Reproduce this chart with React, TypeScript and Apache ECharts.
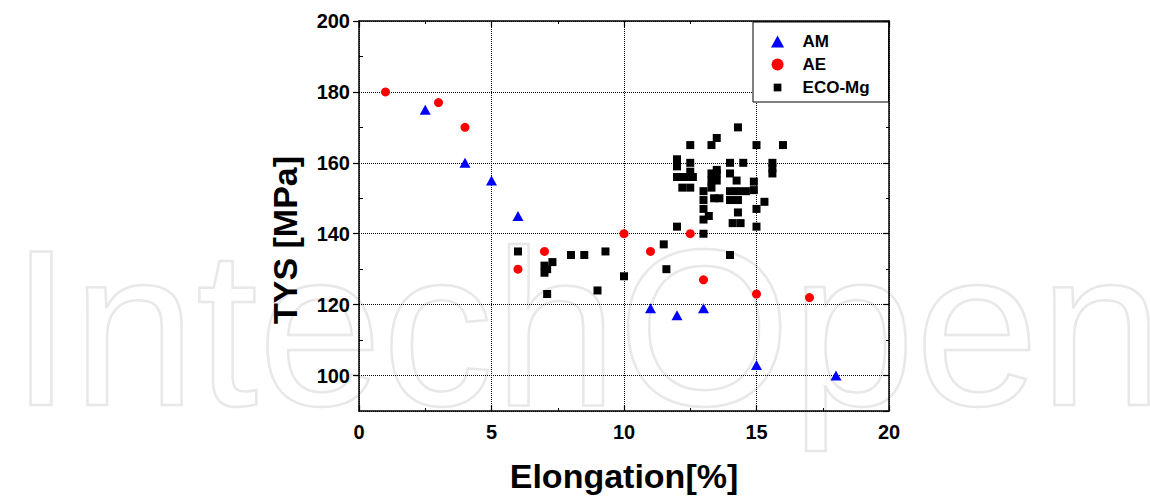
import React, { useEffect, useRef } from "react";
import * as echarts from "echarts";

const seriesNames = ["AM", "AE", "ECO-Mg"];

const amData: number[][] = [
  [2.5, 175], [4, 160], [5, 155], [6, 145], [11, 119], [12, 117], [13, 119], [15, 103], [18, 100],
];

const aeData: number[][] = [
  [1, 180], [3, 177], [4, 170], [6, 130], [7, 135], [10, 140], [11, 135], [12.5, 140], [13, 127], [15, 123], [17, 122],
];

const ecoData: number[][] = [
  [6, 135], [7, 129], [7, 131], [7.1, 130], [7.3, 132], [7.1, 123], [8, 134], [8.5, 134], [9.3, 135], [9, 124],
  [10, 128], [11.5, 137], [11.6, 130], [12, 142], [14, 134],
  [14.3, 170], [13.5, 167], [12.5, 165], [13.3, 165], [15, 165], [16, 165],
  [12, 161], [12, 159], [12.5, 160], [14, 160], [14.5, 160], [15.6, 160], [15.6, 158.5], [15.6, 157],
  [13.5, 158], [12, 156], [12.3, 156], [12.6, 156], [12.2, 153], [12.5, 153], [12.5, 157.5],
  [13.3, 157], [13.3, 155], [13.3, 153], [13.5, 157], [13.5, 155],
  [13, 152], [13, 149.5], [13, 147], [13.4, 150], [13.6, 150], [13.2, 145], [13, 144],
  [14, 157], [14, 152], [14, 149.5], [14.25, 155], [14.3, 152], [14.3, 149.5], [14.3, 146],
  [14.6, 152], [14.9, 154.7], [14.9, 152.3], [15.3, 149], [15, 147], [14.1, 143], [14.4, 143], [15, 142], [13, 140],
];

const xTitle = "Elongation[%]";
const yTitle = "TYS [MPa]";
const watermark = "IntechOpen";

const FONT = '"Liberation Sans", Arial, Helvetica, sans-serif';

const legendIcons = [
  "path://M6,0L12,11L0,11Z",
  "path://M0.5,6A5.5,5.5,0,1,1,11.5,6A5.5,5.5,0,1,1,0.5,6Z",
  "path://M-1,-1M1.5,1.5L10.5,1.5L10.5,10.5L1.5,10.5ZM13,13",
];

export default function App() {
  const ref = useRef<HTMLDivElement>(null);
  useEffect(() => {
    if (!ref.current) return;
    const chart = echarts.init(ref.current, null, { renderer: "svg" });
    const axisLabelStyle = { color: "#000", fontFamily: FONT, fontWeight: "bold" as const, fontSize: 20 };
    const lineBlack = { color: "#000", width: 1.5 };
    chart.setOption({
      animation: false,
      backgroundColor: "#fff",
      grid: { left: 359, right: 261, top: 21, bottom: 86, containLabel: false },
      graphic: [
        {
          type: "text",
          x: 10,
          y: 327,
          z: -10,
          silent: true,
          style: {
            text: watermark,
            fontSize: 223,
            fontFamily: FONT,
            fill: "none",
            stroke: "#e8e8e8",
            lineWidth: 2.5,
            verticalAlign: "middle",
          },
        },
        {
          type: "text",
          x: 624,
          y: 476,
          z: 10,
          style: {
            text: xTitle,
            fontSize: 34,
            fontWeight: "bold",
            fontFamily: FONT,
            fill: "#000",
            align: "center",
            verticalAlign: "middle",
          },
        },
        {
          type: "text",
          x: 285,
          y: 240,
          rotation: Math.PI / 2,
          z: 10,
          style: {
            text: yTitle,
            fontSize: 34,
            fontWeight: "bold",
            fontFamily: FONT,
            fill: "#000",
            align: "center",
            verticalAlign: "middle",
          },
        },
      ],
      legend: {
        orient: "vertical",
        left: 753,
        top: 22,
        padding: [11, 19, 6, 18],
        itemWidth: 40,
        itemHeight: 12,
        itemGap: 6,
        symbolKeepAspect: true,
        borderColor: "#000",
        borderWidth: 1,
        backgroundColor: "#fff",
        data: seriesNames.map((name, i) => ({ name, icon: legendIcons[i] })),
        textStyle: { color: "#000", fontFamily: FONT, fontWeight: "bold", fontSize: 17 },
      },
      xAxis: [
        {
          type: "value",
          min: 0,
          max: 20,
          interval: 5,
          position: "bottom",
          axisLine: { show: true, onZero: false, lineStyle: lineBlack },
          axisTick: { show: true, inside: true, length: 6, lineStyle: { color: "#000", width: 1.2 } },
          minorTick: { show: true, splitNumber: 2, length: 3, lineStyle: { color: "#000", width: 1 } },
          splitLine: { show: true, lineStyle: { type: "dotted", color: "#000", width: 1 } },
          axisLabel: { ...axisLabelStyle, margin: 11 },
        },
        {
          type: "value",
          min: 0,
          max: 20,
          interval: 5,
          position: "top",
          axisLine: { show: true, onZero: false, lineStyle: lineBlack },
          axisTick: { show: true, inside: true, length: 6, lineStyle: { color: "#000", width: 1.2 } },
          minorTick: { show: true, splitNumber: 2, length: 3, lineStyle: { color: "#000", width: 1 } },
          splitLine: { show: false },
          axisLabel: { show: false },
        },
      ],
      yAxis: [
        {
          type: "value",
          min: 90,
          max: 200,
          splitNumber: 5,
          minInterval: 20,
          maxInterval: 20,
          position: "left",
          axisLine: { show: true, onZero: false, lineStyle: lineBlack },
          axisTick: { show: true, inside: false, length: 6, lineStyle: { color: "#000", width: 1.2 } },
          splitLine: { show: true, lineStyle: { type: "dotted", color: "#000", width: 1 } },
          axisLabel: { ...axisLabelStyle, margin: 9, showMinLabel: false },
        },
        {
          type: "value",
          min: 90,
          max: 200,
          splitNumber: 5,
          minInterval: 20,
          maxInterval: 20,
          position: "right",
          axisLine: { show: true, onZero: false, lineStyle: lineBlack },
          axisTick: { show: true, inside: true, length: 6, lineStyle: { color: "#000", width: 1.2 } },
          minorTick: { show: true, splitNumber: 2, length: 3, lineStyle: { color: "#000", width: 1 } },
          splitLine: { show: false },
          axisLabel: { show: false },
        },
        {
          type: "value",
          min: 90,
          max: 200,
          splitNumber: 5,
          minInterval: 20,
          maxInterval: 20,
          position: "left",
          offset: 0,
          axisLine: { show: false },
          axisTick: { show: false, inside: true },
          minorTick: { show: true, splitNumber: 2, length: 4, lineStyle: { color: "#000", width: 1 } },
          splitLine: { show: false },
          axisLabel: { show: false },
        },
      ],
      series: [
        {
          name: seriesNames[0],
          type: "scatter",
          data: amData,
          symbol: "triangle",
          symbolSize: [11, 10],
          itemStyle: { color: "#0000ff", opacity: 1 },
          z: 5,
        },
        {
          name: seriesNames[1],
          type: "scatter",
          data: aeData,
          symbol: "circle",
          symbolSize: 9,
          itemStyle: { color: "#ff0000", opacity: 1 },
          z: 5,
        },
        {
          name: seriesNames[2],
          type: "scatter",
          data: ecoData,
          symbol: "rect",
          symbolSize: 8,
          itemStyle: { color: "#000000", opacity: 1 },
          z: 4,
        },
      ],
    });
    return () => chart.dispose();
  }, []);
  return <div ref={ref} style={{ width: 1150, height: 497, position: "absolute", left: 0, top: 0 }} />;
}
